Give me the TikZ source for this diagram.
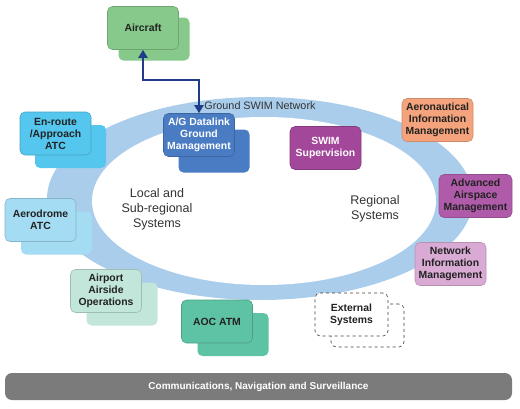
\documentclass[tikz,border=0pt]{standalone}
\usepackage{fontspec}
\setmainfont{Liberation Sans}
\usetikzlibrary{arrows.meta,calc}
\definecolor{bandc}{HTML}{AACDEC}
\definecolor{greenc}{HTML}{86C98A}
\definecolor{agdc}{HTML}{4A7CC4}
\definecolor{enc}{HTML}{55C6EE}
\definecolor{aeroc}{HTML}{A4DCF4}
\definecolor{airc}{HTML}{C3E6DA}
\definecolor{aocc}{HTML}{5EC2A4}
\definecolor{swimc}{HTML}{A3479A}
\definecolor{aimc}{HTML}{F4A37C}
\definecolor{aamc}{HTML}{AF5BAA}
\definecolor{nimc}{HTML}{D8AAD4}
\definecolor{barc}{HTML}{7B7B7B}
\definecolor{navyc}{HTML}{1F3C88}
\definecolor{txtc}{HTML}{222222}
\definecolor{lblc}{HTML}{333333}
\newcommand\twobox[7]{%
  \node[box, fill=#4, draw=none] (#1b) at ({#2+#6},{#3+#7}) {};
  \node[box, fill=#4, draw=#4!82!black] (#1) at (#2,#3) {#5};
}
\begin{document}
\begin{tikzpicture}[x=1pt,y=-1pt,
  box/.style={rounded corners=5pt, minimum width=71pt, minimum height=43pt,
    inner sep=1pt, align=center, line width=0.6pt,
    font=\bfseries\fontsize{10.4}{12}\selectfont, text=txtc},
  lbl/.style={align=center, text=lblc, font=\fontsize{12.5}{15}\selectfont},
  arr/.style={draw=navyc, line width=2.6pt,
    {Triangle[length=8pt,width=9pt]}-{Triangle[length=8pt,width=9pt]}}
]
\useasboundingbox (0,0) rectangle (520,408);
% ring
\fill[bandc] (260,198.5) ellipse [x radius=213pt, y radius=101.5pt];
\fill[white] (264,201) ellipse [x radius=172pt, y radius=84pt];
\node[text=lblc, font=\fontsize{10.8}{12}\selectfont] (net) at (260,106) {Ground SWIM Network};
\node[lbl] (local) at (157,209) {Local and\\Sub-regional\\Systems};
\node[lbl] (regional) at (375,209) {Regional\\Systems};
% boxes
\twobox{aircraft}{143}{28}{greenc}{Aircraft}{11}{11}
\twobox{enroute}{55.5}{133.5}{enc}{En-route\\/Approach\\ATC}{15}{13}
\twobox{aerodrome}{40.5}{220}{aeroc}{Aerodrome\\ATC}{16}{13}
\twobox{airport}{106}{291}{airc}{Airport\\Airside\\Operations}{16}{13}
\twobox{aoc}{217}{321.5}{aocc}{AOC ATM}{16}{13}
\twobox{agd}{199}{135}{agdc}{\textcolor{white}{A/G Datalink}\\\textcolor{white}{Ground}\\\textcolor{white}{Management}}{15}{16}
\node[box, fill=swimc, draw=swimc!82!black, text=white] (swim) at (325.5,148) {SWIM\\Supervision};
\node[box, fill=aimc, draw=aimc!85!black] (aim) at (437.5,120) {Aeronautical\\Information\\Management};
\node[box, fill=aamc, draw=aamc!85!black, minimum width=73pt] (aam) at (475.5,196) {Advanced\\Airspace\\Management};
\node[box, fill=nimc, draw=nimc!85!black] (nim) at (450.5,264) {Network\\Information\\Management};
% external (dashed)
\node[box, fill=white, draw=black!75, dashed, minimum width=73pt] (extb) at (367.5,325.5) {};
\node[box, fill=white, draw=black!75, dashed, minimum width=73pt] (ext) at (351.5,314.5) {External\\Systems};
% arrow
\coordinate (bend) at (199,80);
\draw[arr] (aircraft.south) |- (bend) -- (agd.north);
% bottom bar
\node[rounded corners=7pt, fill=barc, minimum width=507pt, minimum height=27pt,
  inner sep=0pt, text=white, font=\bfseries\fontsize{10}{12}\selectfont] (cns) at (258.5,386.5)
  {Communications, Navigation and Surveillance};
\end{tikzpicture}
\end{document}
